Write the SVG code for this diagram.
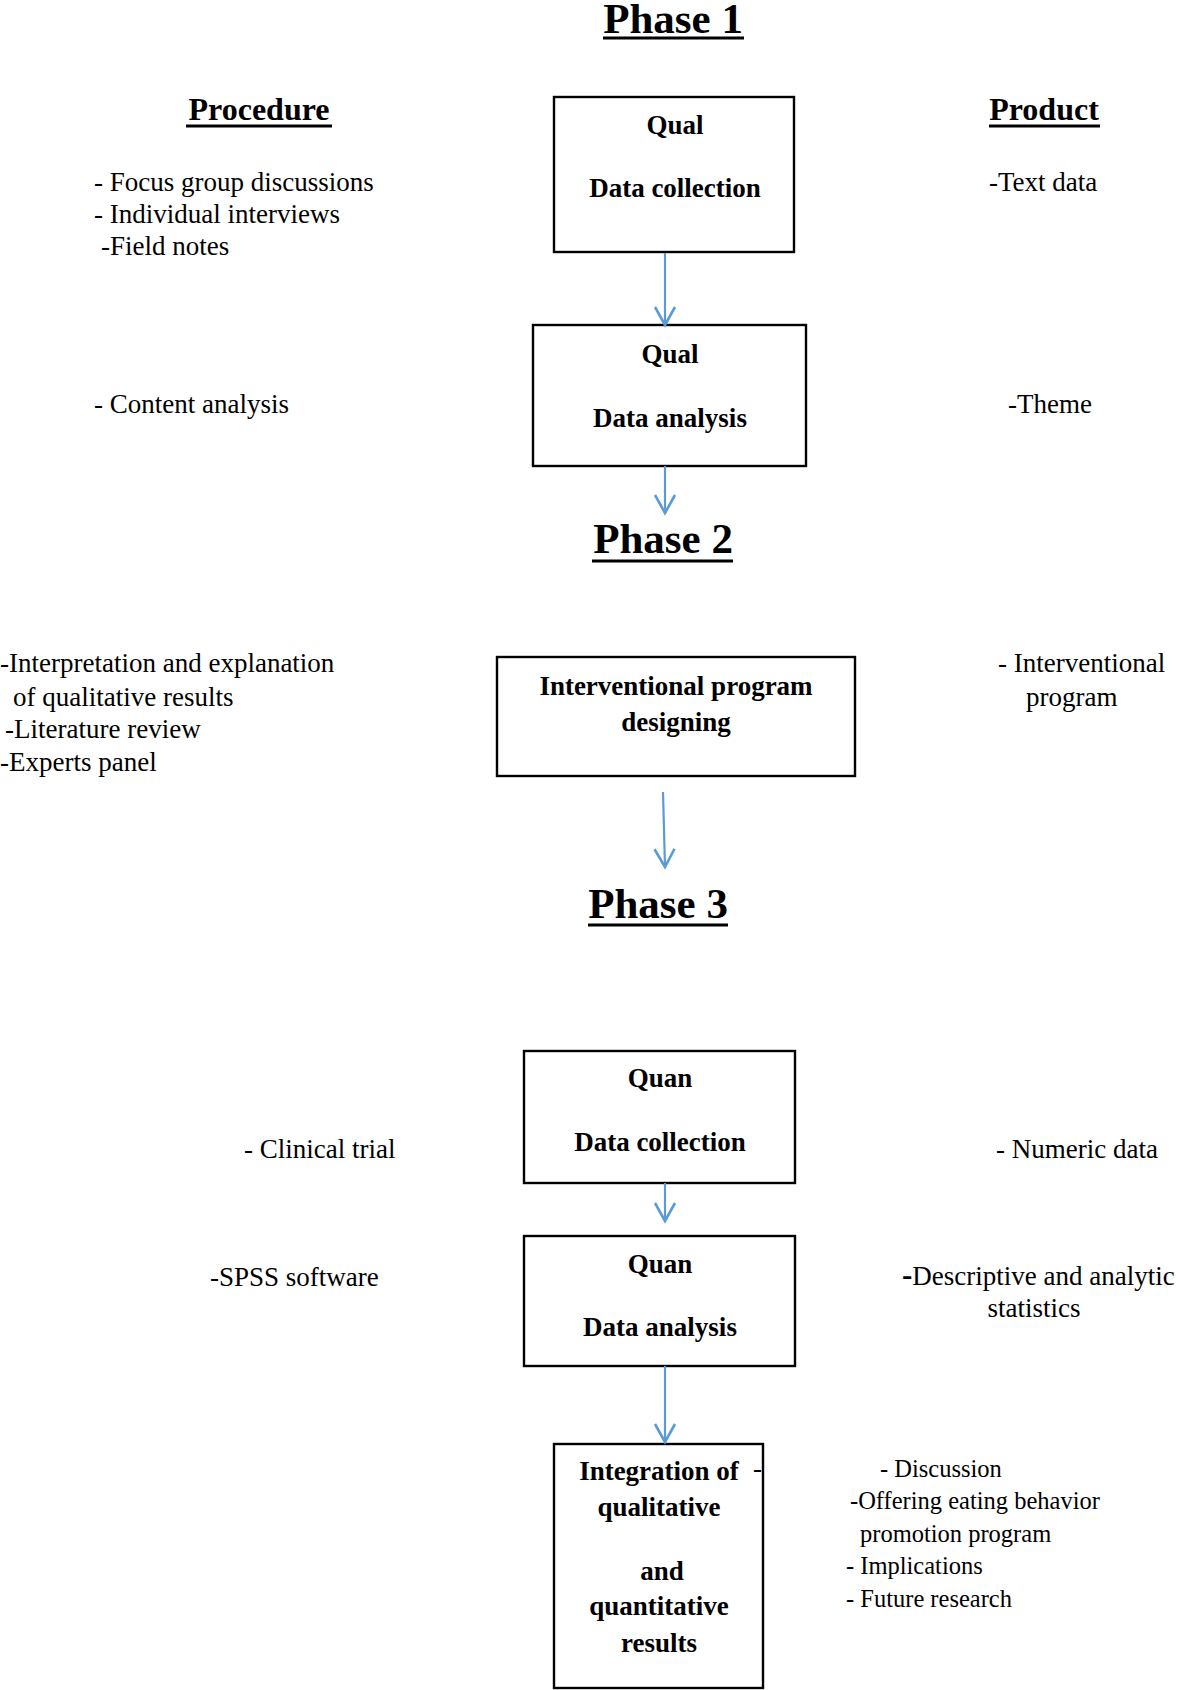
<svg xmlns="http://www.w3.org/2000/svg" width="1181" height="1690" viewBox="0 0 1181 1690">
  <style>
    .bg { fill: #ffffff; }
    .box { fill: #ffffff; stroke: #000000; stroke-width: 2.4; }
    .t { font-family: "Liberation Serif", "Times New Roman", serif; font-size: 27px; fill: #000000; }
    .ts { font-family: "Liberation Serif", "Times New Roman", serif; font-size: 24.5px; fill: #000000; }
    .b { font-family: "Liberation Serif", "Times New Roman", serif; font-size: 27px; font-weight: bold; fill: #000000; text-anchor: middle; }
    .hd { font-family: "Liberation Serif", "Times New Roman", serif; font-size: 32px; font-weight: bold; fill: #000000; text-anchor: middle; }
    .ph { font-family: "Liberation Serif", "Times New Roman", serif; font-size: 43px; font-weight: bold; fill: #000000; text-anchor: middle; }
    .ul { stroke: #000000; stroke-width: 3; }
    .conn { stroke: #5B9BD5; stroke-width: 2.2; fill: none; marker-end: url(#arr); }
  </style>
  <defs>
    <marker id="arr" markerUnits="userSpaceOnUse" markerWidth="24" markerHeight="26" viewBox="-2 -3 24 26" refX="18" refY="10" orient="auto">
      <path d="M0,0 L18,10 L0,20" fill="none" stroke="#5B9BD5" stroke-width="2.6"/>
    </marker>
  </defs>
  <rect class="bg" x="0" y="0" width="1181" height="1690"/>

  <g id="headings">
    <text class="ph" x="673" y="33">Phase 1</text>
    <line class="ul" x1="603" y1="38" x2="744" y2="38"/>
    <text class="hd" x="259" y="120">Procedure</text>
    <line class="ul" x1="186" y1="126" x2="332" y2="126"/>
    <text class="hd" x="1044" y="120">Product</text>
    <line class="ul" x1="989" y1="126" x2="1100" y2="126"/>
    <text class="ph" x="663" y="553">Phase 2</text>
    <line class="ul" x1="592" y1="561" x2="733" y2="561"/>
    <text class="ph" x="658" y="918">Phase 3</text>
    <line class="ul" x1="588" y1="925" x2="728" y2="925"/>
  </g>

  <g id="qual-collection">
    <rect class="box" x="554" y="97" width="240" height="155"/>
    <text class="b" x="675" y="134">Qual</text>
    <text class="b" x="675" y="197">Data collection</text>
  </g>
  <g id="qual-analysis">
    <rect class="box" x="533" y="325" width="273" height="141"/>
    <text class="b" x="670" y="363">Qual</text>
    <text class="b" x="670" y="427">Data analysis</text>
  </g>
  <g id="program-design">
    <rect class="box" x="497" y="657" width="358" height="119"/>
    <text class="b" x="676" y="695">Interventional program</text>
    <text class="b" x="676" y="731">designing</text>
  </g>
  <g id="quan-collection">
    <rect class="box" x="524" y="1051" width="271" height="132"/>
    <text class="b" x="660" y="1087">Quan</text>
    <text class="b" x="660" y="1151">Data collection</text>
  </g>
  <g id="quan-analysis">
    <rect class="box" x="524" y="1236" width="271" height="130"/>
    <text class="b" x="660" y="1273">Quan</text>
    <text class="b" x="660" y="1336">Data analysis</text>
  </g>
  <g id="integration">
    <rect class="box" x="554" y="1444" width="209" height="244"/>
    <text class="b" x="659" y="1480">Integration of</text>
    <text class="t" x="753" y="1477">-</text>
    <text class="b" x="659" y="1516">qualitative</text>
    <text class="b" x="662" y="1580">and</text>
    <text class="b" x="659" y="1615">quantitative</text>
    <text class="b" x="659" y="1652">results</text>
  </g>

  <g id="procedure-texts">
    <text class="t" x="94" y="191">- Focus group discussions</text>
    <text class="t" x="94" y="223">- Individual interviews</text>
    <text class="t" x="101" y="255">-Field notes</text>
    <text class="t" x="94" y="413">- Content analysis</text>
    <text class="t" x="0" y="672">-Interpretation and explanation</text>
    <text class="t" x="13" y="706">of qualitative results</text>
    <text class="t" x="5" y="738">-Literature review</text>
    <text class="t" x="0" y="771">-Experts panel</text>
    <text class="t" x="244" y="1158">- Clinical trial</text>
    <text class="t" x="210" y="1286">-SPSS software</text>
  </g>

  <g id="product-texts">
    <text class="t" x="996" y="1158">- Numeric data</text>
    <text class="t" x="989" y="191">-Text data</text>
    <text class="t" x="1008" y="413">-Theme</text>
    <text class="t" x="998" y="672">- Interventional</text>
    <text class="t" x="1026" y="706">program</text>
    <text class="t" x="902" y="1285"><tspan font-weight="bold" font-size="31">-</tspan>Descriptive and analytic</text>
    <text class="t" x="1034" y="1317" text-anchor="middle">statistics</text>
    <text class="ts" x="880" y="1477">- Discussion</text>
    <text class="ts" x="850" y="1509">-Offering eating behavior</text>
    <text class="ts" x="860" y="1542">promotion program</text>
    <text class="ts" x="846" y="1574">- Implications</text>
    <text class="ts" x="846" y="1607">- Future research</text>
  </g>

  <g id="connectors">
    <line class="conn" x1="665" y1="253" x2="665" y2="325"/>
    <line class="conn" x1="665" y1="466" x2="665" y2="513"/>
    <line class="conn" x1="663" y1="792" x2="665" y2="867"/>
    <line class="conn" x1="665" y1="1183" x2="665" y2="1221"/>
    <line class="conn" x1="665" y1="1366" x2="665" y2="1442"/>
  </g>
</svg>
